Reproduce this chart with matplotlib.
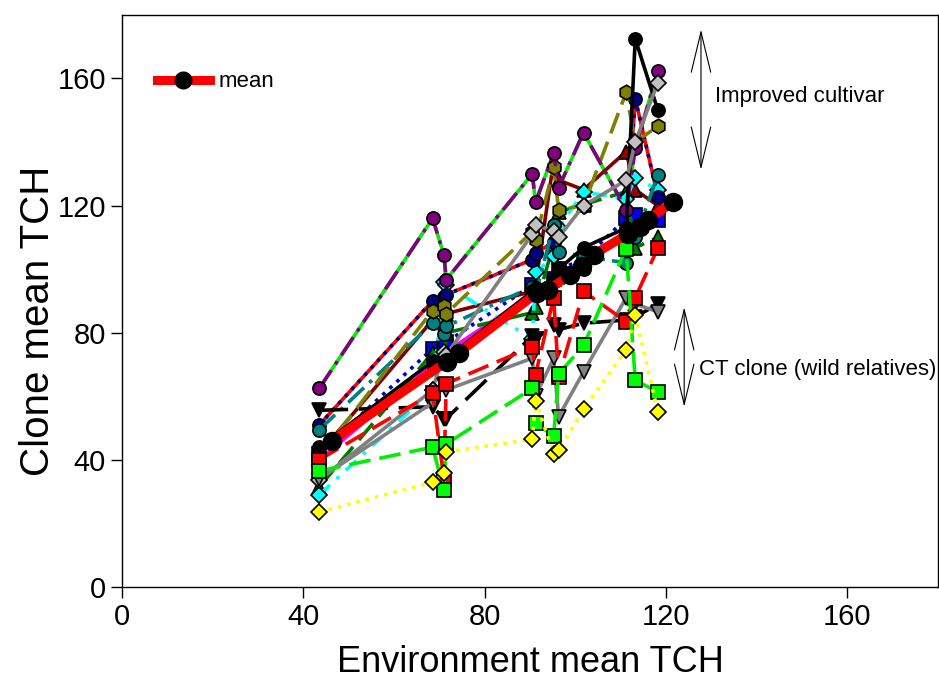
import numpy as np
import matplotlib
matplotlib.use('Agg')
import matplotlib.pyplot as plt
from matplotlib.lines import Line2D

plt.rcParams['font.family'] = ['Liberation Sans', 'DejaVu Sans']

# environment means (x) where the clones were tested
env = [43.5, 68.5, 71.0, 71.5, 90.5, 91.2, 95.2, 96.3, 101.8, 111.2, 113.2, 118.2]

# clone mean TCH in each environment
yellow_dia = [23.6, 33.0, 36.0, 42.5, 46.5, 58.6, 42.0, 43.0, 56.0, 74.6, 85.7, 55.0]
lime_sq    = [36.5, 44.0, 30.5, 45.0, 62.5, 51.5, 47.5, 67.0, 76.0, 106.5, 65.0, 61.4]
red_sq     = [40.0, 61.0, 34.0, 64.0, 75.6, 66.8, 91.0, 66.0, 93.0, 83.5, 91.0, 106.7]
gray_tri   = [34.0, 58.0, 63.5, 62.0, 72.0, 60.0, 72.0, 53.6, 67.7, 91.0, 89.0, 86.6]
gray_dia   = [33.7, 62.0, 74.0, 73.0, 111.0, 114.0, 112.0, 110.0, 120.0, 128.0, 140.0, 158.7]
black_tri  = [55.6, 56.7, 53.0, 53.0, 79.0, 78.0, 82.5, 81.0, 83.0, 84.0, 85.0, 89.0]
purple_c   = [62.5, 116.0, 104.5, 96.7, 130.0, 121.0, 136.5, 125.6, 143.0, 118.7, 138.0, 162.5]
olive_hex  = [41.0, 87.0, 88.5, 86.0, 111.8, 109.3, 132.0, 118.7, 120.0, 155.6, 140.0, 145.0]
teal_c     = [49.5, 83.0, 79.5, 82.0, 94.5, 92.0, 114.0, 105.5, 104.0, 102.0, 110.0, 129.6]
navy_c     = [51.0, 90.0, 91.4, 92.0, 103.0, 105.0, 108.6, 100.5, 100.0, 112.0, 153.7, 122.8]
cyan_dia   = [29.0, 62.0, 96.0, 95.0, 78.0, 99.0, 104.0, 113.0, 124.4, 122.0, 128.8, 125.0]
dgreen_tri = [31.5, 73.7, 72.0, 80.0, 86.3, 88.0, 108.0, 118.0, 120.3, 124.4, 106.8, 110.0]
dred_tri   = [42.0, 84.0, 84.0, 86.0, 93.0, 95.0, 134.0, 128.0, 125.0, 137.0, 125.0, 120.0]
black_c    = [44.0, 71.0, 71.0, 72.0, 93.0, 94.0, 97.0, 100.0, 106.8, 113.0, 172.5, 150.0]
blue_sq    = [42.0, 75.0, 75.6, 77.0, 95.0, 93.0, 97.0, 100.0, 103.0, 116.0, 117.0, 115.6]
magenta    = [40.0, 70.0, 73.0, 74.0, 92.0, 93.0, 96.0, 97.0, 100.0, 112.0, 114.0, 117.0]

mean_x = [46.3, 71.6, 74.3, 91.5, 94.0, 98.9, 101.5, 104.0, 111.5, 114.3, 116.0, 121.5]
mean_y = [46.0, 70.9, 73.7, 92.5, 93.5, 98.3, 101.0, 104.6, 111.0, 113.4, 115.6, 121.0]

fig = plt.figure(figsize=(9.39, 6.79), dpi=100)
ax = fig.add_axes([0.130, 0.1355, 0.869, 0.8425])

lw = 2.6
ms = 9.5
dash = (0, (6, 2.5))

def series(y, color, ls, marker, mfc, ms=ms, **kw):
    ax.plot(env, y, color=color, linestyle=ls, lw=lw, marker=marker, ms=ms,
            mfc=mfc, mec='black', mew=1.2, **kw)

# two-colour lines: a base line underneath
ax.plot(env, purple_c, color='#00ee00', lw=lw)
ax.plot(env, navy_c, color='red', lw=lw)

series(magenta, 'magenta', '-', 's', 'magenta', ms=7)
series(blue_sq, '#0000cc', ':', 's', 'blue')
series(dred_tri, '#800000', '-', '^', '#990000')
series(dgreen_tri, '#007700', dash, '^', '#007700')
series(cyan_dia, 'cyan', (0, (4, 2.5, 1, 2.5)), 'D', 'cyan', ms=8.5)
series(navy_c, 'navy', ':', 'o', 'navy')
series(teal_c, '#008080', (0, (6, 2, 1, 2)), 'o', '#008080')
series(olive_hex, '#808000', dash, 'h', '#808000', ms=10.5)
series(purple_c, '#800080', (0, (6, 2, 1, 2)), 'o', '#800080')
series(black_c, 'black', '-', 'o', 'black')
series(black_tri, 'black', (0, (8, 3)), 'v', 'black')
series(gray_dia, '#808080', '-', 'D', '#c0c0c0', ms=8.5)
series(gray_tri, '#808080', '-', 'v', '#808080')
series(red_sq, 'red', dash, 's', 'red')
series(lime_sq, '#00ee00', dash, 's', '#00ff00')
series(yellow_dia, 'yellow', ':', 'D', 'yellow', ms=8.5)

ax.plot(mean_x, mean_y, color='red', lw=6.5, marker='o', ms=13,
        mfc='black', mec='black', zorder=5)

# arrows and notes
arrow = dict(arrowstyle='<->,head_length=2.9,head_width=0.7',
             lw=0.8, color='black', shrinkA=0, shrinkB=0)
ax.annotate('', xy=(127.7, 175.4), xytext=(127.7, 131.3), arrowprops=arrow)
ax.text(130.7, 154.3, 'Improved cultivar', fontsize=16, va='center', ha='left')
ax.annotate('', xy=(124.0, 88.0), xytext=(124.0, 56.7), arrowprops=arrow)
ax.text(127.2, 68.3, 'CT clone (wild relatives)', fontsize=16, va='center',
        ha='left', clip_on=False)

handle = Line2D([], [], color='red', lw=6.5, marker='o', ms=12, mfc='black', mec='black')
ax.legend([handle], ['mean'], loc='center left', bbox_to_anchor=(0.018, 0.883),
          frameon=False, handlelength=2.4, handletextpad=0.4, fontsize=16)

ax.set_xlim(0, 180)
ax.set_ylim(0, 180)
ax.set_xticks([0, 40, 80, 120, 160])
ax.set_yticks([0, 40, 80, 120, 160])
ax.tick_params(direction='out', length=8, width=1, labelsize=21, top=False, right=False)
for s in ax.spines.values():
    s.set_linewidth(1)
ax.set_xlabel('Environment mean TCH', fontsize=26, labelpad=10)
ax.set_ylabel('Clone mean TCH', fontsize=29)
ax.yaxis.set_label_coords(-0.08, 0.465)

fig.savefig('out.png', dpi=100)
